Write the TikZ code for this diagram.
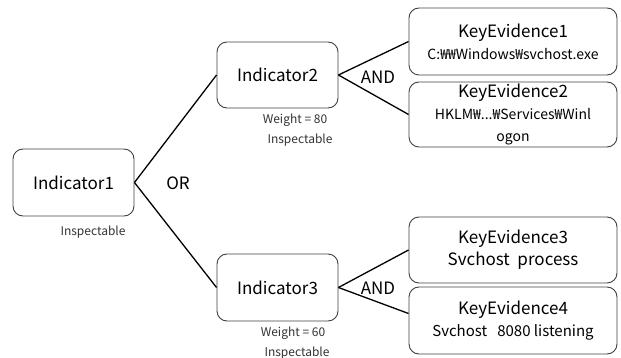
\documentclass[tikz,border=0pt]{standalone}
\usepackage{fontspec}
\setmainfont{Noto Sans CJK KR}
\newcommand{\bigf}{\fontsize{17}{22}\selectfont}
\newcommand{\smallf}{\fontsize{14}{22}\selectfont}
\begin{document}
\begin{tikzpicture}[x=1pt,y=-1pt,
  box/.style={draw=black!75,line width=0.9pt,rounded corners=10pt,align=center,inner sep=0pt},
  ind/.style={box,minimum width=121pt,minimum height=67pt,font=\bigf},
  ke/.style={box,minimum width=208pt,minimum height=66pt,font=\fontsize{14}{22}\selectfont},
  big/.style={font=\bigf},
  note/.style={font=\fontsize{12}{14}\selectfont,text=black!80},
  link/.style={line width=1.3pt}]
\useasboundingbox (0,0) rectangle (621,358);
\node[ind] (i1) at (73.5,182.5) {Indicator1};
\node[ind,minimum height=66pt] (i2) at (277.5,75) {Indicator2};
\node[ind] (i3) at (277.5,287.5) {Indicator3};
\node[ke,minimum height=67pt] (k1) at (513,41.5) {{\bigf KeyEvidence1}\\{\smallf C:₩₩Windows₩svchost.exe}};
\node[ke,minimum height=65pt] (k2) at (513,114.5) {{\bigf KeyEvidence2}\\{\smallf HKLM₩...₩Services₩Winl}\\{\smallf ogon}};
\node[ke] (k3) at (513,250) {{\bigf KeyEvidence3}\\{\bigf Svchost~ process}};
\node[ke,minimum height=67pt] (k4) at (513,320.5) {{\bigf KeyEvidence4}\\{\fontsize{15}{22}\selectfont Svchost~~ 8080 listening}};
\node[note] (n1) at (93,232) {Inspectable};
\node[note] (w2) at (295,120) {Weight = 80};
\node[note] (n2) at (300,140) {Inspectable};
\node[note] (w3) at (293,333) {Weight = 60};
\node[note] (n3) at (297,353) {Inspectable};
\node[big] (or) at (178,183) {OR};
\node[big] (and1) at (378,77) {AND};
\node[big] (and2) at (378,288) {AND};
\draw[link] (i1.east) -- (i2.west);
\draw[link] (i1.east) -- (i3.west);
\draw[link] (i2.east) -- (k1.west);
\draw[link] (i2.east) -- (k2.west);
\draw[link] (i3.east) -- (k3.west);
\draw[link] (i3.east) -- ([yshift=7pt]k4.west);
\end{tikzpicture}
\end{document}
